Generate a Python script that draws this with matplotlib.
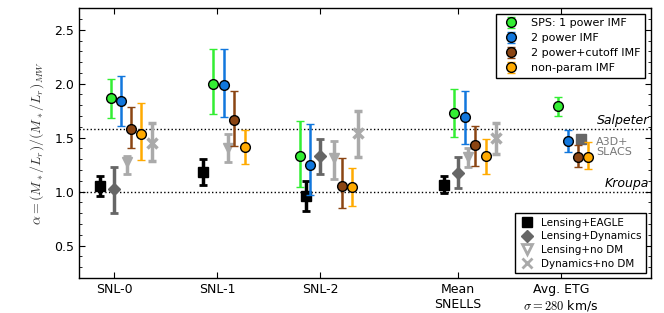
import matplotlib
matplotlib.use("Agg")
import matplotlib.pyplot as plt
from matplotlib.lines import Line2D
from matplotlib.ticker import MultipleLocator
import numpy as np

plt.rcParams['mathtext.fontset'] = 'cm'
plt.rcParams['font.family'] = 'DejaVu Sans'

# categories (x tick positions in axis units)
cats = ["SNL-0", "SNL-1", "SNL-2", "Mean\nSNELLS", "Avg. ETG\n$\\sigma = 280$ km/s"]
cat_x = [0.0, 1.0, 2.0, 3.34, 4.34]

# SPS results: value, upper end, lower end of error bar (all 5 categories)
sps1_val = [1.87, 2.00, 1.33, 1.73, 1.79]
sps1_hi = [2.04, 2.32, 1.65, 1.95, 1.88]
sps1_lo = [1.68, 1.72, 1.04, 1.51, 1.70]

sps2_val = [1.84, 1.99, 1.25, 1.69, 1.47]
sps2_hi = [2.07, 2.32, 1.63, 1.93, 1.57]
sps2_lo = [1.61, 1.69, 0.97, 1.44, 1.37]

cut_val = [1.58, 1.66, 1.05, 1.43, 1.32]
cut_hi = [1.78, 1.93, 1.31, 1.61, 1.43]
cut_lo = [1.40, 1.42, 0.85, 1.24, 1.23]

npar_val = [1.53, 1.41, 1.04, 1.33, 1.32]
npar_hi = [1.82, 1.57, 1.22, 1.49, 1.46]
npar_lo = [1.29, 1.26, 0.87, 1.16, 1.21]

# lensing / dynamics results
eagle_idx = [0, 1, 2, 3]
eagle_val = [1.05, 1.18, 0.96, 1.065]
eagle_hi = [1.14, 1.30, 1.10, 1.14]
eagle_lo = [0.96, 1.06, 0.82, 0.99]

ldyn_idx = [0, 2, 3]
ldyn_val = [1.02, 1.33, 1.17]
ldyn_hi = [1.23, 1.49, 1.32]
ldyn_lo = [0.80, 1.16, 1.03]

lnodm_idx = [0, 1, 2, 3]
lnodm_val = [1.27, 1.40, 1.31, 1.32]
lnodm_hi = [1.33, 1.53, 1.47, 1.40]
lnodm_lo = [1.16, 1.27, 1.12, 1.23]

dnodm_idx = [0, 2, 3]
dnodm_val = [1.45, 1.54, 1.50]
dnodm_hi = [1.64, 1.75, 1.64]
dnodm_lo = [1.28, 1.32, 1.35]

a3d_idx = [4]
a3d_val = [1.49]

kroupa = 1.0
salpeter = 1.58

# horizontal offsets of each series around the tick (layout only)
off_sps1 = [-0.03, -0.035, -0.19, -0.04, -0.03]
off_sps2 = [0.065, 0.07, -0.10, 0.07, 0.07]
off_cut = [0.165, 0.17, 0.21, 0.165, 0.165]
off_npar = [0.265, 0.27, 0.31, 0.27, 0.265]
off_eagle = -0.135
off_ldyn = 0.0
off_lnodm = [0.13, 0.105, 0.135, 0.10]
off_dnodm = 0.37
off_a3d = 0.2


def errs(val, hi, lo):
    val = np.array(val); hi = np.array(hi); lo = np.array(lo)
    return [val - lo, hi - val]


fig = plt.figure(figsize=(6.64, 3.13), dpi=100)
ax = fig.add_axes([0.119, 0.112, 0.861, 0.862])

ax.axhline(kroupa, ls=':', color='k', lw=1.0, zorder=1)
ax.axhline(salpeter, ls=':', color='k', lw=1.0, zorder=1)

# lensing / dynamics points
xs = [cat_x[i] + off_eagle for i in eagle_idx]
ax.errorbar(xs, eagle_val, yerr=errs(eagle_val, eagle_hi, eagle_lo), fmt='s', color='k',
            ms=6.5, elinewidth=2.5, capsize=3, capthick=2, mec='k', zorder=3)
xs = [cat_x[i] + off_ldyn for i in ldyn_idx]
ax.errorbar(xs, ldyn_val, yerr=errs(ldyn_val, ldyn_hi, ldyn_lo), fmt='D', color='#666666',
            ms=6.5, elinewidth=2.5, capsize=3, capthick=2, mec='#666666', zorder=3)
xs = [cat_x[i] + o for i, o in zip(lnodm_idx, off_lnodm)]
ax.errorbar(xs, lnodm_val, yerr=errs(lnodm_val, lnodm_hi, lnodm_lo), fmt='v', color='#aaaaaa',
            ms=7, elinewidth=2.5, capsize=3, capthick=2, mec='#aaaaaa', zorder=3)
xs = [cat_x[i] + off_dnodm for i in dnodm_idx]
ax.errorbar(xs, dnodm_val, yerr=errs(dnodm_val, dnodm_hi, dnodm_lo), fmt='x', color='#aaaaaa',
            ms=7, mew=2.5, elinewidth=2.5, capsize=3, capthick=2, zorder=3)
xs = [cat_x[i] + off_a3d for i in a3d_idx]
ax.plot(xs, a3d_val, 's', color='#666666', ms=6.5, zorder=3)
ax.text(cat_x[4] + 0.34, a3d_val[0] - 0.075, "A3D+\nSLACS", color='#777777', fontsize=8,
        ha='left', va='center', linespacing=1.0)

# SPS points
sps_sets = [
    (sps1_val, sps1_hi, sps1_lo, off_sps1, '#33ee33', 'SPS: 1 power IMF'),
    (sps2_val, sps2_hi, sps2_lo, off_sps2, '#1177dd', '2 power IMF'),
    (cut_val, cut_hi, cut_lo, off_cut, '#8b4513', '2 power+cutoff IMF'),
    (npar_val, npar_hi, npar_lo, off_npar, '#ffaa00', 'non-param IMF'),
]
handles = []
for val, hi, lo, off, col, lab in sps_sets:
    xs = [cx + o for cx, o in zip(cat_x, off)]
    h = ax.errorbar(xs, val, yerr=errs(val, hi, lo), fmt='o', color=col, mfc=col, mec='k',
                    mew=1.0, ms=7, elinewidth=1.8, capsize=3, capthick=1.5, ecolor=col,
                    label=lab, zorder=4)
    handles.append(h)

ax.text(5.2, salpeter + 0.015, "Salpeter", fontsize=9, style='italic', ha='right', va='bottom')
ax.text(5.2, kroupa + 0.015, "Kroupa", fontsize=9, style='italic', ha='right', va='bottom')

ax.set_xlim(-0.34, 5.214)
ax.set_ylim(0.2, 2.7)
ax.set_xticks(cat_x)
ax.set_xticklabels(cats, fontsize=9)
ax.yaxis.set_major_locator(MultipleLocator(0.5))
ax.yaxis.set_minor_locator(MultipleLocator(0.1))
ax.tick_params(axis='both', which='both', direction='in', top=True, right=True)
ax.tick_params(which='major', length=4, labelsize=9)
ax.tick_params(which='minor', length=2)
for s in ax.spines.values():
    s.set_linewidth(1.0)
ax.set_ylabel(r"$\alpha = (M_*/L_r)/(M_*/L_r)_{MW}$", fontsize=10, color='#333333', labelpad=6)

leg1 = ax.legend(handles=handles, loc='upper right', fontsize=8, numpoints=1, fancybox=False,
                 edgecolor='k', framealpha=1, borderaxespad=0.5, handletextpad=0.8,
                 labelspacing=0.45)
leg1.get_frame().set_linewidth(1.0)
ax.add_artist(leg1)

h2 = [
    Line2D([], [], ls='none', marker='s', color='k', ms=6.5),
    Line2D([], [], ls='none', marker='D', color='#666666', ms=6.5),
    Line2D([], [], ls='none', marker='v', mfc='white', mec='#aaaaaa', mew=2, ms=7),
    Line2D([], [], ls='none', marker='x', color='#aaaaaa', mew=2, ms=7),
]
l2 = ["Lensing+EAGLE", "Lensing+Dynamics", "Lensing+no DM", "Dynamics+no DM"]
leg2 = ax.legend(h2, l2, loc='lower right', fontsize=7.5, numpoints=1, fancybox=False,
                 edgecolor='k', framealpha=1, borderaxespad=0.5, handletextpad=0.6,
                 handlelength=1.5, labelspacing=0.35, borderpad=0.4)
leg2.get_frame().set_linewidth(1.0)

fig.savefig("out.png", dpi=100, facecolor='white')
